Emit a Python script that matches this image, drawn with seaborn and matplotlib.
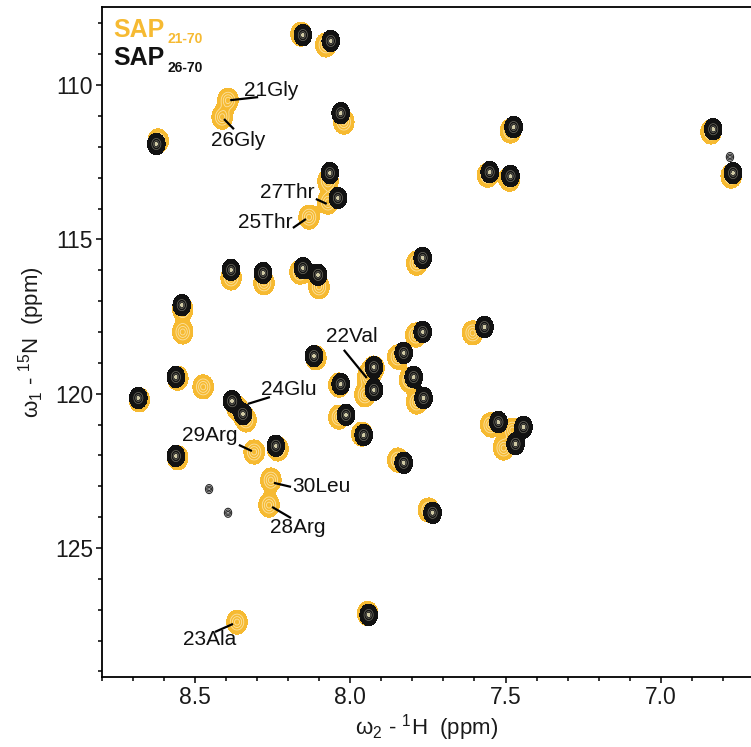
import numpy as np
import matplotlib
matplotlib.use("Agg")
import matplotlib.pyplot as plt
import seaborn as sns

sns.set_theme(style="ticks")
plt.rcParams["font.family"] = ["Liberation Sans", "DejaVu Sans"]
plt.rcParams["mathtext.fontset"] = "custom"
plt.rcParams["mathtext.rm"] = "Liberation Sans"
plt.rcParams["mathtext.bf"] = "Liberation Sans:bold"

# ---- 1H-15N HSQC cross-peak positions (ppm) ----
# SAP 21-70 (orange)
sap21_h = [8.159, 8.079, 8.394, 8.413, 8.619, 8.021, 7.484, 6.838, 6.773,
           7.558, 7.487, 8.072, 8.072, 8.133, 8.384, 8.278, 8.162, 8.101,
           7.786, 8.540, 8.540, 8.474, 8.556, 8.680, 8.365, 8.336, 8.310,
           8.233, 8.256, 8.262, 7.789, 7.606, 8.111, 7.847, 7.944, 7.924,
           8.037, 7.953, 7.809, 7.786, 8.037, 7.963, 7.548, 7.478, 7.506,
           7.847, 7.748, 8.365, 7.944, 8.556]
sap21_n = [108.35, 108.70, 110.49, 111.04, 111.81, 111.20, 111.49, 111.52, 112.95,
           112.92, 113.05, 113.11, 113.79, 114.28, 116.25, 116.41, 116.06, 116.54,
           115.77, 117.26, 118.00, 119.78, 119.50, 120.20, 120.46, 120.85, 121.89,
           121.79, 122.80, 123.61, 118.10, 118.03, 118.84, 118.81, 119.46, 119.17,
           119.72, 120.04, 119.56, 120.27, 120.76, 121.31, 121.01, 121.18, 121.76,
           122.15, 123.77, 127.40, 127.12, 122.08]

# SAP 26-70 (black)
sap26_h = [8.153, 8.063, 8.625, 8.031, 7.474, 6.831, 6.767, 7.551, 7.484,
           8.066, 8.040, 8.384, 8.281, 8.153, 8.104, 7.767, 8.543, 8.562,
           8.683, 8.381, 8.346, 8.240, 8.562, 7.767, 7.568, 8.117, 7.828,
           7.924, 8.031, 7.924, 7.796, 7.764, 8.014, 7.957, 7.523, 7.442,
           7.468, 7.828, 7.735, 7.941]
sap26_n = [108.38, 108.57, 111.91, 110.91, 111.36, 111.43, 112.85, 112.82, 112.95,
           112.85, 113.66, 115.99, 116.09, 115.93, 116.15, 115.60, 117.13, 119.46,
           120.14, 120.24, 120.66, 121.69, 122.02, 118.00, 117.84, 118.78, 118.68,
           119.14, 119.69, 119.88, 119.46, 120.14, 120.69, 121.34, 120.92, 121.08,
           121.63, 122.24, 123.86, 127.17]

# weak SAP 26-70 signals
weak26_h = [6.777, 8.455, 8.394]
weak26_n = [112.33, 123.09, 123.86]

# residue assignments: label, line start/end (H, N), text anchor (H, N), alignment
assign_name = ["21Gly", "26Gly", "27Thr", "25Thr", "22Val", "24Glu", "29Arg", "30Leu", "28Arg", "23Ala"]
assign_line_h = [(8.387, 8.297), (8.407, 8.375), (8.111, 8.076), (8.185, 8.143), (8.021, 7.947),
                 (8.330, 8.259), (8.359, 8.317), (8.246, 8.191), (8.252, 8.191), (8.436, 8.378)]
assign_line_n = [(110.49, 110.39), (111.10, 111.43), (113.69, 113.85), (114.63, 114.34), (118.58, 119.49),
                 (120.33, 120.11), (121.66, 121.86), (122.89, 123.02), (123.67, 124.03), (127.72, 127.46)]
assign_text_h = [8.342, 8.449, 8.117, 8.185, 7.995, 8.288, 8.362, 8.188, 8.169, 8.452]
assign_text_n = [110.16, 111.81, 113.47, 114.44, 118.16, 119.85, 121.37, 123.02, 124.35, 127.98]
assign_ha = ["left", "left", "right", "right", "center", "left", "right", "left", "center", "center"]

ORANGE = "#F6BA32"
ORANGE_LIGHT = "#FCE2A2"
BLACK = "#121212"
BLACK_INNER = "#6f6d62"

H_LIM = (8.796, 6.706)
N_LIM = (129.18, 107.47)

hh = np.linspace(H_LIM[1] - 0.02, H_LIM[0] + 0.02, 1500)
nn = np.linspace(N_LIM[1] - 0.3, N_LIM[0] + 0.3, 1500)


def spectrum(h0, n0, sh, sn):
    gx = np.exp(-0.5 * ((hh[None, :] - np.asarray(h0)[:, None]) / sh) ** 2)
    gy = np.exp(-0.5 * ((nn[None, :] - np.asarray(n0)[:, None]) / sn) ** 2)
    return gy.T @ gx


s21 = spectrum(sap21_h, sap21_n, 0.016, 0.19)
s26 = spectrum(sap26_h, sap26_n, 0.0135, 0.165)
sw = spectrum(weak26_h, weak26_n, 0.006, 0.075)

fig = plt.figure(figsize=(7.51, 7.47), dpi=100)
ax = fig.add_axes([102 / 751, 70 / 747, 650 / 751, 670 / 747])

# SAP 21-70 contours
ax.contourf(hh, nn, s21, levels=[0.12, 1e3], colors=[ORANGE], zorder=1)
ax.contour(hh, nn, s21, levels=[0.4, 0.65, 0.88], colors=[ORANGE_LIGHT], linewidths=0.6, zorder=1.1)
# SAP 26-70 contours
ax.contourf(hh, nn, s26, levels=[0.11, 1e3], colors=[BLACK], zorder=2)
ax.contour(hh, nn, s26, levels=[0.55, 0.8, 0.92], colors=[BLACK_INNER], linewidths=0.5, zorder=2.1)
ax.contourf(hh, nn, s26, levels=[0.965, 1e3], colors=["#cfc9a4"], zorder=2.2)
ax.contour(hh, nn, sw, levels=[0.15, 0.45, 0.8], colors=["#2a2a2a"], linewidths=0.8, zorder=2)

# assignments
for name, lh, ln, th, tn, ha in zip(assign_name, assign_line_h, assign_line_n,
                                    assign_text_h, assign_text_n, assign_ha):
    ax.plot(lh, ln, color="black", lw=1.6, solid_capstyle="butt", zorder=5)
    ax.text(th, tn, name, ha=ha, va="center", fontsize=15, color="#111111", zorder=6)

# sample legend
ax.text(0.017, 0.955, "SAP", transform=ax.transAxes, fontsize=18, fontweight="bold",
        color=ORANGE, ha="left", va="baseline")
ax.text(0.1, 0.946, "21-70", transform=ax.transAxes, fontsize=10, fontweight="bold",
        color=ORANGE, ha="left", va="baseline")
ax.text(0.017, 0.913, "SAP", transform=ax.transAxes, fontsize=18, fontweight="bold",
        color=BLACK, ha="left", va="baseline")
ax.text(0.1, 0.903, "26-70", transform=ax.transAxes, fontsize=10, fontweight="bold",
        color=BLACK, ha="left", va="baseline")

ax.set_xlim(*H_LIM)
ax.set_ylim(*N_LIM)
ax.set_xticks([8.5, 8.0, 7.5, 7.0])
ax.set_xticklabels(["8.5", "8.0", "7.5", "7.0"])
ax.set_xticks(np.arange(6.8, 8.81, 0.1), minor=True)
ax.set_yticks([110, 115, 120, 125])
ax.set_yticks(np.arange(108, 130, 1), minor=True)
ax.tick_params(axis="both", which="major", direction="out", length=4.5, width=1.1,
               labelsize=16.5, pad=2, color="black", labelcolor="#1a1a1a")
ax.tick_params(axis="both", which="minor", direction="out", length=3, width=1.1, color="black")
for side in ["left", "bottom", "top"]:
    ax.spines[side].set_linewidth(1.3)
    ax.spines[side].set_color("black")
ax.spines["right"].set_visible(False)

ax.set_xlabel(r"ω$_2$ - $^{1}$H  (ppm)", fontsize=16, color="#1a1a1a", labelpad=2)
ax.set_ylabel(r"ω$_1$ - $^{15}$N  (ppm)", fontsize=16, color="#1a1a1a", labelpad=6)

fig.savefig("out.png", dpi=100)
